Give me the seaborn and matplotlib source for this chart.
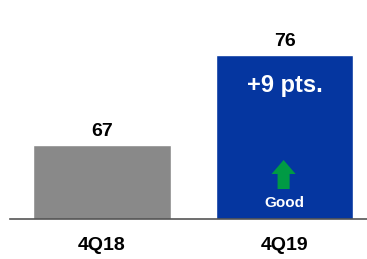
import matplotlib
matplotlib.use('Agg')
import matplotlib.pyplot as plt
import seaborn as sns
import pandas as pd
from matplotlib.patches import FancyArrow

quarters = ['4Q18', '4Q19']
scores = [67, 76]
bar_colors = ['#898989', '#0536A0']

sns.set_theme(style='white')
plt.rcParams['font.family'] = ['Liberation Sans', 'DejaVu Sans']

df = pd.DataFrame({'quarter': quarters, 'score': scores})

fig = plt.figure(figsize=(3.67, 2.59), dpi=100)
ax = fig.add_axes([10 / 367, 40 / 259, 357 / 367, 219 / 259])

sns.barplot(data=df, x='quarter', y='score', hue='quarter', palette=bar_colors,
            width=0.754, legend=False, ax=ax, saturation=1)

ax.set_ylim(59.6, 81.5)
ax.set_xlim(-0.504, 1.452)

for i, v in enumerate(scores):
    ax.text(i, v + 0.85, str(v), ha='center', va='baseline', fontsize=14,
            fontweight='bold', color='black')

# change annotation inside the latest bar
delta = scores[1] - scores[0]
ax.text(1, scores[1] - 3.67, f'+{delta} pts.', ha='center', va='baseline',
        fontsize=17, fontweight='bold', color='white')
ax.add_patch(FancyArrow(0.995, 62.6, 0, 2.9, width=0.066, head_width=0.132,
                        head_length=1.4, length_includes_head=True,
                        color='#009A44', lw=0))
ax.text(1, 60.8, 'Good', ha='center', va='baseline', fontsize=11,
        fontweight='bold', color='white')

sns.despine(ax=ax, left=True)
ax.spines['bottom'].set_color('#555555')
ax.spines['bottom'].set_linewidth(1.2)
ax.set_yticks([])
ax.set_xlabel('')
ax.set_ylabel('')
ax.tick_params(axis='x', length=0, pad=13)
for lbl in ax.get_xticklabels():
    lbl.set_fontweight('bold')
    lbl.set_fontsize(14)
    lbl.set_color('black')

fig.savefig('out.png', dpi=100)
